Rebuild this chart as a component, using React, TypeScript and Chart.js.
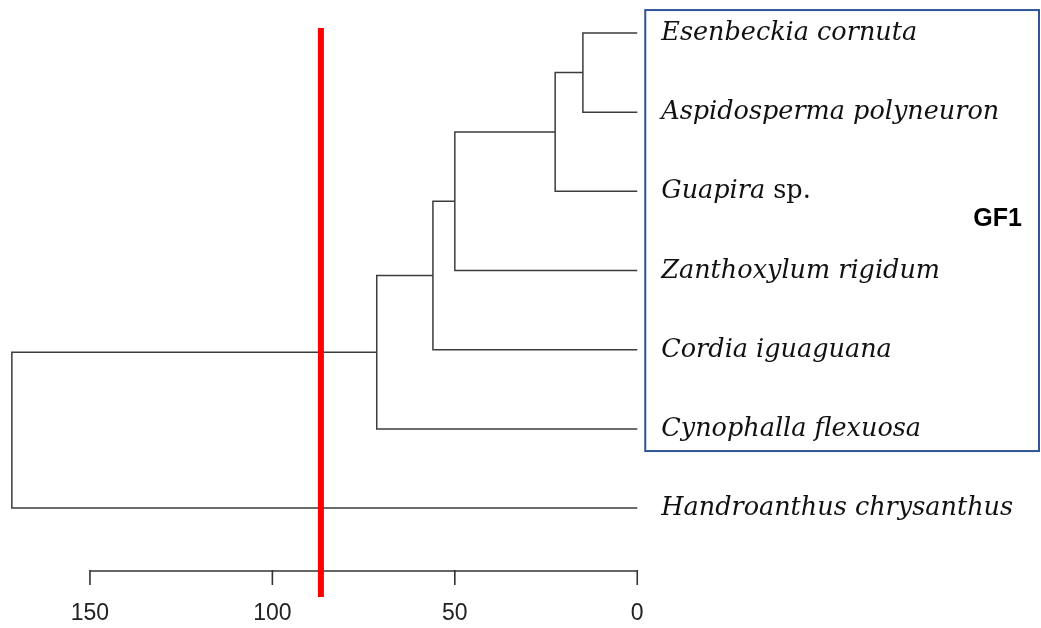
import React, { useEffect, useRef } from "react";
import { Chart, registerables } from "chart.js";

Chart.register(...registerables);

// Leaves (top to bottom) and their italic/upright parts
const leafNames: string[][] = [
  ["Esenbeckia cornuta", ""],
  ["Aspidosperma polyneuron", ""],
  ["Guapira", " sp."],
  ["Zanthoxylum rigidum", ""],
  ["Cordia iguaguana", ""],
  ["Cynophalla flexuosa", ""],
  ["Handroanthus chrysanthus", ""],
];

// R-style merge matrix: negative = leaf index (1-based), positive = earlier merge
const mergeLeft: number[] = [-1, 1, 2, 3, 4, 5];
const mergeRight: number[] = [-2, -3, -4, -5, -6, -7];
const mergeHeights: number[] = [14.9, 22.5, 50.0, 56.0, 71.4, 171.4];

const cutHeight = 86.7;
const axisTicks: number[] = [0, 50, 100, 150];
const groupLabel = "GF1";

const BRANCH_COLOR = "#3c3c3c";

function buildDendrogram() {
  const nodeY: number[] = [];
  const nodeH: number[] = [];
  const childPos = (c: number) =>
    c < 0 ? { y: -c, h: 0 } : { y: nodeY[c - 1], h: nodeH[c - 1] };
  const datasets: any[] = [];
  for (let i = 0; i < mergeHeights.length; i++) {
    const a = childPos(mergeLeft[i]);
    const b = childPos(mergeRight[i]);
    const h = mergeHeights[i];
    nodeY.push((a.y + b.y) / 2);
    nodeH.push(h);
    datasets.push({
      type: "line",
      data: [
        { x: a.h, y: a.y },
        { x: h, y: a.y },
        { x: h, y: b.y },
        { x: b.h, y: b.y },
      ],
      borderColor: BRANCH_COLOR,
      borderWidth: 1.5,
      pointRadius: 0,
      fill: false,
      tension: 0,
      order: 2,
    });
  }
  return datasets;
}

export default function App() {
  const ref = useRef<HTMLCanvasElement | null>(null);

  useEffect(() => {
    document.body.style.margin = "0";
    const canvas = ref.current;
    if (!canvas) return;

    const decor = {
      id: "decor",
      beforeDatasetsDraw(chart: any) {
        const ctx = chart.ctx;
        const xs = chart.scales.x;
        const axisY = 571;
        ctx.save();
        // axis line
        ctx.strokeStyle = "#666";
        ctx.lineWidth = 2;
        ctx.beginPath();
        ctx.moveTo(xs.getPixelForValue(axisTicks[axisTicks.length - 1]), axisY);
        ctx.lineTo(xs.getPixelForValue(axisTicks[0]), axisY);
        ctx.stroke();
        ctx.strokeStyle = "#333";
        ctx.lineWidth = 1.6;
        ctx.font = '23px "Liberation Sans", Arial, sans-serif';
        ctx.fillStyle = "#222";
        ctx.textAlign = "center";
        ctx.textBaseline = "middle";
        for (const t of axisTicks) {
          const px = xs.getPixelForValue(t);
          ctx.beginPath();
          ctx.moveTo(px, axisY - 1);
          ctx.lineTo(px, axisY + 14);
          ctx.stroke();
          ctx.fillText(String(t), px, 614);
        }
        ctx.restore();
      },
      afterDatasetsDraw(chart: any) {
        const ctx = chart.ctx;
        const xs = chart.scales.x;
        const ys = chart.scales.y;
        ctx.save();
        // leaf labels
        const lx = xs.getPixelForValue(0) + 24;
        ctx.fillStyle = "#111";
        ctx.textAlign = "left";
        ctx.textBaseline = "alphabetic";
        leafNames.forEach((parts, i) => {
          const y = ys.getPixelForValue(i + 1) + 7;
          ctx.font = 'italic 25.5px "DejaVu Serif", serif';
          ctx.fillText(parts[0], lx, y);
          if (parts[1]) {
            const w = ctx.measureText(parts[0]).width;
            ctx.font = '25.5px "DejaVu Serif", serif';
            ctx.fillText(parts[1], lx + w, y);
          }
        });
        // group box
        ctx.strokeStyle = "#2f5597";
        ctx.lineWidth = 2;
        const bx = xs.getPixelForValue(0) + 8;
        const by = ys.getPixelForValue(0.71);
        const bb = ys.getPixelForValue(6.28);
        ctx.strokeRect(bx, by, chart.width - 2 - bx, bb - by);
        // group label
        ctx.fillStyle = "#000";
        ctx.font = 'bold 25px "Liberation Sans", Arial, sans-serif';
        ctx.textAlign = "center";
        ctx.textBaseline = "middle";
        ctx.fillText(groupLabel, 997.5, ys.getPixelForValue(3.35));
        ctx.restore();
      },
    };

    const datasets = buildDendrogram();
    datasets.push({
      type: "line",
      data: [
        { x: cutHeight, y: 0.937 },
        { x: cutHeight, y: 8.124 },
      ],
      borderColor: "#ff0000",
      borderWidth: 6,
      pointRadius: 0,
      fill: false,
      order: 0,
    });

    const chart = new Chart(canvas, {
      type: "scatter",
      data: { datasets },
      options: {
        animation: false,
        responsive: false,
        maintainAspectRatio: false,
        layout: { padding: 0 },
        plugins: {
          legend: { display: false },
          tooltip: { enabled: false },
        },
        scales: {
          x: {
            type: "linear",
            reverse: true,
            min: -110.65,
            max: 174.65,
            display: false,
          },
          y: {
            type: "linear",
            reverse: true,
            min: 0.583,
            max: 8.515,
            display: false,
          },
        },
      },
      plugins: [decor],
    } as any);

    return () => chart.destroy();
  }, []);

  return (
    <div style={{ width: 1041, height: 628, background: "#fff" }}>
      <canvas ref={ref} width={1041} height={628} />
    </div>
  );
}
